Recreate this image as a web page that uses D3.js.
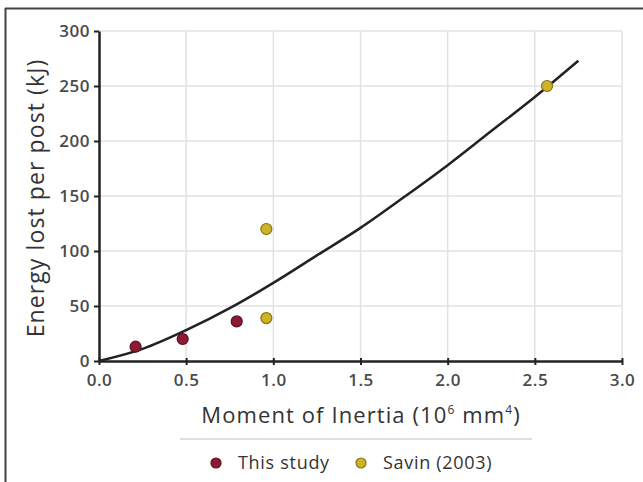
<!DOCTYPE html>
<html>
<head>
<meta charset="utf-8">
<script src="https://cdn.jsdelivr.net/npm/d3@7"></script>
<style>
  body { margin: 0; background: #fff; }
  text { font-family: "Open Sans", "Noto Sans", sans-serif; }
</style>
</head>
<body>
<div id="chart"></div>
<script>

// Data
var thisStudyX = [0.21, 0.48, 0.79];
var thisStudyY = [13, 20, 36];

var savinX = [0.96, 0.96, 2.57];
var savinY = [39, 120, 250];

// Fitted trend line
var trendX = [0, 0.25, 0.5, 0.75, 1.0, 1.25, 1.5, 1.75, 2.0, 2.25, 2.5, 2.75];
var trendY = [0, 11, 28, 48, 71, 96, 121, 149, 178, 209, 240, 273];

var xTicks = [0, 0.5, 1.0, 1.5, 2.0, 2.5, 3.0];
var yTicks = [0, 50, 100, 150, 200, 250, 300];

var seriesNames = ["This study", "Savin (2003)"];
var seriesColors = ["#8c1a33", "#cdb325"];
var seriesStroke = ["#5a0f20", "#86731a"];

var cfg = {
  width: 643,
  height: 482,
  margin: { top: 31, left: 99, right: 21, bottom: 121 }
};

var innerW = cfg.width - cfg.margin.left - cfg.margin.right,
    innerH = cfg.height - cfg.margin.top - cfg.margin.bottom;

var svg = d3.select("#chart").append("svg")
    .attr("width", cfg.width)
    .attr("height", cfg.height);

// frame (only top and left edges are visible)
svg.append("line").attr("x1", 5).attr("y1", 8.5).attr("x2", cfg.width).attr("y2", 8.5)
    .style("stroke", "#444").style("stroke-width", 2);
svg.append("line").attr("x1", 5.5).attr("y1", 8).attr("x2", 5.5).attr("y2", cfg.height)
    .style("stroke", "#444").style("stroke-width", 2);

var g = svg.append("g")
    .attr("transform", "translate(" + cfg.margin.left + "," + cfg.margin.top + ")");

var x = d3.scaleLinear().domain([0, 3]).range([0, innerW]);
var y = d3.scaleLinear().domain([0, 300]).range([innerH, 0]);

// grid
g.append("g").selectAll("line")
  .data(xTicks.slice(1))
  .enter().append("line")
    .attr("x1", function(d) { return x(d); })
    .attr("x2", function(d) { return x(d); })
    .attr("y1", 0).attr("y2", innerH)
    .style("stroke", "#e2e2e2").style("stroke-width", 1.5);

g.append("g").selectAll("line")
  .data(yTicks.slice(1))
  .enter().append("line")
    .attr("x1", 0).attr("x2", innerW)
    .attr("y1", function(d) { return y(d); })
    .attr("y2", function(d) { return y(d); })
    .style("stroke", "#e2e2e2").style("stroke-width", 1.5);

// axes
var xAxis = g.append("g")
    .attr("transform", "translate(0," + innerH + ")")
    .call(d3.axisBottom(x).tickValues(xTicks).tickFormat(d3.format(".1f")).tickSizeInner(4).tickSizeOuter(0).tickPadding(9));

var yAxis = g.append("g")
    .call(d3.axisLeft(y).tickValues(yTicks).tickSizeInner(5).tickSizeOuter(0).tickPadding(4));

[xAxis, yAxis].forEach(function(a) {
  a.select(".domain").style("stroke", "#222").style("stroke-width", 2.5);
  a.selectAll(".tick line").style("stroke", "#222").style("stroke-width", 2);
  a.selectAll(".tick text").style("font-size", "17px").style("fill", "#4a4a4a")
    .style("font-weight", "600")
    .style("letter-spacing", "0.5px")
    .style("font-family", "'Open Sans', sans-serif");
});
xAxis.selectAll(".tick line").attr("y1", -3);

// trend curve
var line = d3.line()
    .x(function(d) { return x(d[0]); })
    .y(function(d) { return y(d[1]); })
    .curve(d3.curveMonotoneX);

g.append("path")
    .datum(d3.zip(trendX, trendY))
    .attr("d", line)
    .style("fill", "none")
    .style("stroke", "#222")
    .style("stroke-width", 2.5);

// points
var series = [d3.zip(thisStudyX, thisStudyY), d3.zip(savinX, savinY)];

series.forEach(function(pts, s) {
  g.append("g").selectAll("circle")
    .data(pts)
    .enter().append("circle")
      .attr("cx", function(d) { return x(d[0]); })
      .attr("cy", function(d) { return y(d[1]); })
      .attr("r", 5.5)
      .style("fill", seriesColors[s])
      .style("stroke", seriesStroke[s])
      .style("stroke-width", 1.2);
});

// axis titles
svg.append("text")
    .attr("transform", "translate(44," + (cfg.margin.top + innerH / 2 + 2) + ") rotate(-90)")
    .attr("text-anchor", "middle")
    .style("font-size", "23px")
    .style("letter-spacing", "1.1px")
    .style("fill", "#333")
    .text("Energy lost per post (kJ)");

var xt = svg.append("text")
    .attr("x", 361)
    .attr("y", 423)
    .attr("text-anchor", "middle")
    .style("font-size", "22px")
    .style("letter-spacing", "1.1px")
    .style("fill", "#333");
xt.append("tspan").text("Moment of Inertia (10");
xt.append("tspan").attr("dy", -9).style("font-size", "12px").text("6");
xt.append("tspan").attr("dy", 9).text(" mm");
xt.append("tspan").attr("dy", -9).style("font-size", "12px").text("4");
xt.append("tspan").attr("dy", 9).text(")");

// legend
svg.append("line")
    .attr("x1", 180).attr("x2", 532)
    .attr("y1", 439).attr("y2", 439)
    .style("stroke", "#d6d6d6").style("stroke-width", 1.5);

var legendX = [216, 361];
seriesNames.forEach(function(name, s) {
  svg.append("circle")
      .attr("cx", legendX[s]).attr("cy", 463)
      .attr("r", 5)
      .style("fill", seriesColors[s])
      .style("stroke", seriesStroke[s])
      .style("stroke-width", 1.2);
  svg.append("text")
      .attr("x", legendX[s] + 22).attr("y", 469)
      .style("font-size", "18px")
      .style("letter-spacing", "0.7px")
      .style("fill", "#333")
      .text(name);
});

</script>
</body>
</html>
